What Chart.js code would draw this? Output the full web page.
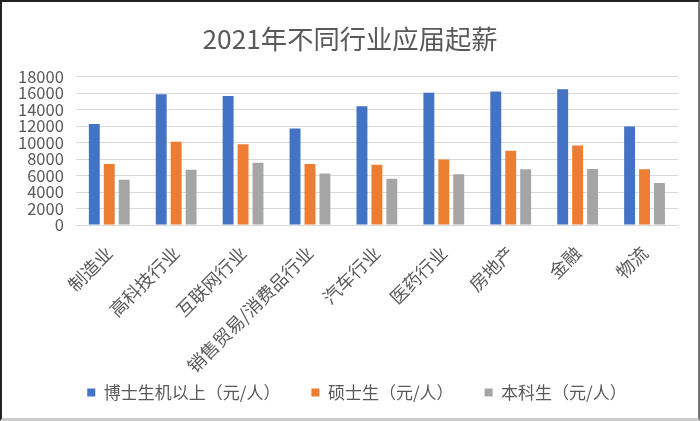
<!DOCTYPE html>
<html>
<head>
<meta charset="utf-8">
<script src="https://cdn.jsdelivr.net/npm/chart.js@4.4.1/dist/chart.umd.min.js"></script>
<style>
  html, body { margin: 0; padding: 0; background: #fff; }
  #frame {
    width: 700px; height: 421px; box-sizing: border-box;
    border-top: 2px solid #222; border-left: 2px solid #222;
    border-right: 2px solid #777; border-bottom: 3px solid #ccc;
    position: relative;
  }
  #chart { display: block; }
</style>
</head>
<body>
<div id="frame"><canvas id="chart"></canvas></div>
<script>
//DATA
const categories = ['制造业', '高科技行业', '互联网行业', '销售贸易/消费品行业', '汽车行业', '医药行业', '房地产', '金融', '物流'];
const seriesNames = ['博士生机以上（元/人）', '硕士生（元/人）', '本科生（元/人）'];
const phdValues      = [12250, 15850, 15650, 11700, 14400, 16050, 16200, 16450, 11950];
const masterValues   = [7400, 10100, 9800, 7400, 7300, 7950, 9000, 9650, 6750];
const bachelorValues = [5500, 6700, 7550, 6250, 5600, 6150, 6750, 6800, 5100];
const yTicks = [0, 2000, 4000, 6000, 8000, 10000, 12000, 14000, 16000, 18000];

//STYLE
const colors = ['#4472C4', '#ED7D31', '#A5A5A5'];
const textColor = '#595959';
const gridColor = '#d9d9d9';
const fontFamily = '"Noto Sans CJK SC", "Noto Sans", sans-serif';

const html__canvas__chart = document.querySelector('#chart');

// the rotated labels run below the (shortened) x axis box, so widen its clip;
// title and legend are centred on the whole picture, not on the padded area
const layoutFixPlugin = {
    id: 'layoutFix',
    afterLayout(chart) {
        chart.scales.x.bottom += 30;
        chart.titleBlock.left += 8;
        chart.titleBlock.right += 8;
        chart.legend.left += 15;
        chart.legend.right += 15;
    }
};

function BAR_Chart(){
    const values = [phdValues, masterValues, bachelorValues];
    const datasets = seriesNames.map((name, i) => ({
        label: name,
        data: values[i],
        backgroundColor: colors[i],
        borderColor: colors[i],
        borderWidth: 0,
        categoryPercentage: 0.67,
        barPercentage: 0.73,
    }));

    const config = {
        type: 'bar',
        data: { labels: categories, datasets: datasets },
        options: {
            responsive: true,
            maintainAspectRatio: false,
            animation: false,
            layout: { padding: { left: 4, right: 20, top: 8, bottom: 7 } },
            plugins: {
                title: {
                    display: true,
                    text: '2021年不同行业应届起薪',
                    color: textColor,
                    font: { family: fontFamily, size: 26.3, weight: 'normal' },
                    padding: { top: 13, bottom: 22 },
                },
                legend: {
                    position: 'bottom',
                    labels: {
                        color: textColor,
                        font: { family: fontFamily, size: 17 },
                        boxWidth: 8,
                        boxHeight: 8,
                        padding: 31,
                    },
                },
                tooltip: { enabled: false },
            },
            scales: {
                x: {
                    grid: { display: false },
                    border: { display: true, color: gridColor, width: 1 },
                    afterFit: axis => { axis.height = 128; },
                    ticks: {
                        color: textColor,
                        font: { family: fontFamily, size: 18 },
                        minRotation: 45,
                        maxRotation: 45,
                        padding: 9,
                    },
                },
                y: {
                    min: 0,
                    max: 18000,
                    afterBuildTicks: axis => { axis.ticks = yTicks.map(v => ({ value: v })); },
                    grid: { color: gridColor, lineWidth: 1, drawTicks: false },
                    border: { display: false },
                    ticks: {
                        autoSkip: false,
                        color: textColor,
                        font: { family: fontFamily, size: 16.5 },
                        padding: 12,
                        callback: v => String(v),
                    },
                },
            },
        },
        plugins: [layoutFixPlugin],
    };
    return new Chart(html__canvas__chart, config);
}

BAR_Chart();
</script>
</body>
</html>
